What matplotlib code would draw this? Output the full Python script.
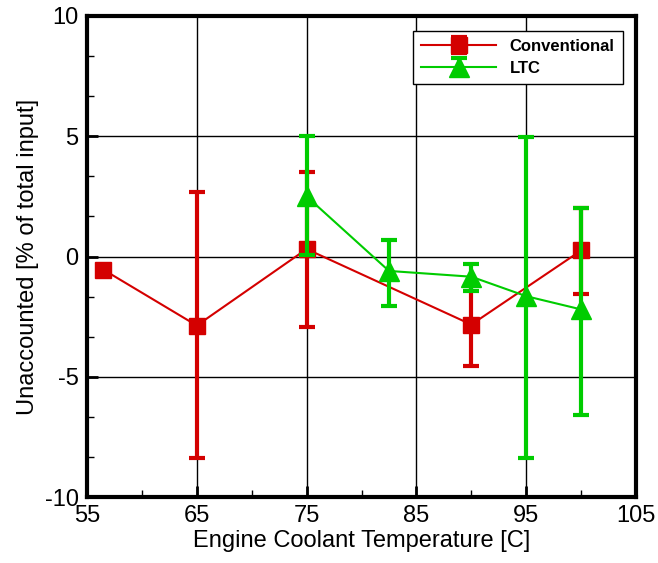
import numpy as np
import matplotlib.pyplot as plt
from matplotlib.ticker import MultipleLocator

# Conventional combustion
conv_t = [56.5, 65, 75, 90, 100]
conv_y = [-0.55, -2.87, 0.31, -2.83, 0.25]
conv_lo = [np.nan, -8.36, -2.95, -4.57, -1.54]
conv_hi = [np.nan, 2.67, 3.53, -1.2, 2.0]

# LTC
ltc_t = [75, 82.5, 90, 95, 100]
ltc_y = [2.5, -0.6, -0.84, -1.65, -2.2]
ltc_lo = [0.05, -2.07, -1.45, -8.36, -6.57]
ltc_hi = [5.0, 0.7, -0.3, 4.98, 2.0]

red = '#d40000'
green = '#00cc00'

plt.rcParams['font.family'] = ['Liberation Sans', 'DejaVu Sans']
plt.rcParams['axes.unicode_minus'] = False

fig = plt.figure(figsize=(6.58, 5.63), dpi=100)
ax = fig.add_axes([0.1322, 0.1172, 0.8344, 0.8544])

def asym(y, lo, hi):
    y = np.array(y)
    return [y - np.array(lo), np.array(hi) - y]

ax.errorbar(conv_t, conv_y, yerr=asym(conv_y, conv_lo, conv_hi), color=red,
            lw=1.5, marker='s', ms=11, elinewidth=3, capsize=6, capthick=3,
            label='Conventional', zorder=3)
ax.errorbar(ltc_t, ltc_y, yerr=asym(ltc_y, ltc_lo, ltc_hi), color=green,
            lw=1.5, marker='^', ms=15, elinewidth=3, capsize=6, capthick=3,
            label='LTC', zorder=4)

ax.set_xlim(55, 105)
ax.set_ylim(-10, 10)
ax.set_xticks([55, 65, 75, 85, 95, 105])
ax.set_yticks([-10, -5, 0, 5, 10])
ax.xaxis.set_minor_locator(MultipleLocator(5))
ax.yaxis.set_minor_locator(MultipleLocator(5 / 3))
ax.grid(True, which='major', color='black', lw=1)
ax.set_axisbelow(True)
for s in ax.spines.values():
    s.set_linewidth(3)
ax.tick_params(which='major', direction='in', length=8, width=2, labelsize=17, pad=6)
ax.tick_params(which='minor', direction='in', length=5, width=1)

ax.set_xlabel('Engine Coolant Temperature [C]', fontsize=17, labelpad=2)
ax.set_ylabel('Unaccounted [% of total input]', fontsize=17, labelpad=4)

leg = ax.legend(loc='upper right', bbox_to_anchor=(0.985, 0.98), fancybox=False,
                framealpha=1, edgecolor='black', handlelength=4.5,
                prop={'weight': 'bold', 'size': 12}, borderaxespad=0.3,
                labelspacing=0.4, borderpad=0.5)
leg.get_frame().set_linewidth(1)

fig.savefig('out.png', dpi=100)
